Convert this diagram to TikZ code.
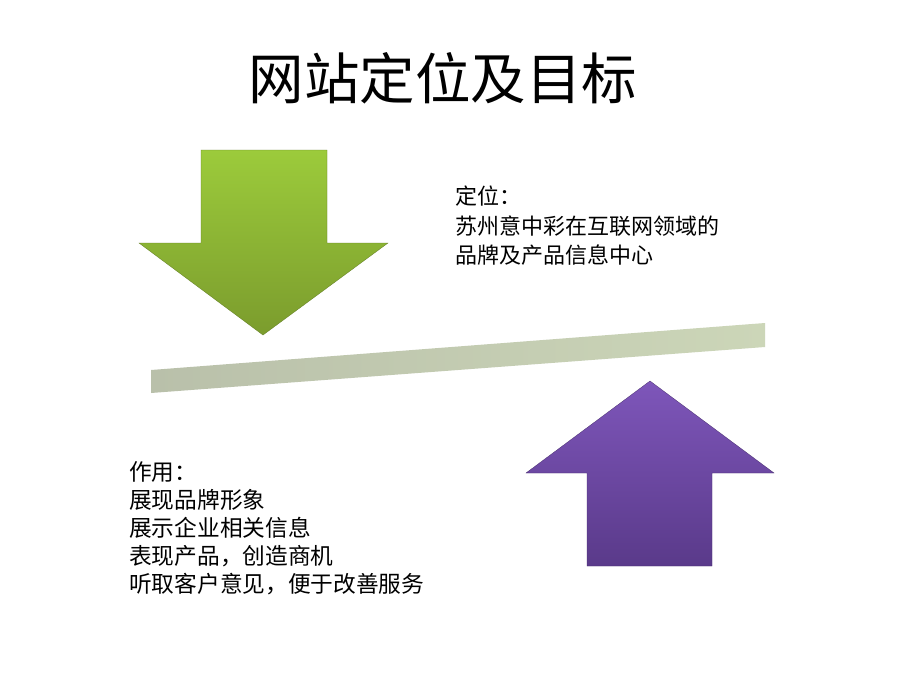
\documentclass[tikz,border=0pt]{standalone}
\usepackage{fontspec}
\setmainfont{Noto Sans CJK SC}
\newfontfamily\cjk{Noto Sans CJK SC}
\begin{document}
\begin{tikzpicture}[x=1pt,y=-1pt,
  bodytext/.style={anchor=base west,inner sep=0pt,font=\cjk\fontsize{22}{26}\selectfont,text=black},
  lefttext/.style={bodytext,font=\cjk\fontsize{22.7}{26}\selectfont},
  titletext/.style={inner sep=0pt,font=\cjk\fontsize{55.5}{60}\selectfont,text=black}]
\definecolor{greentop}{HTML}{9CCB3B}
\definecolor{greenbot}{HTML}{7B9C2D}
\definecolor{purptop}{HTML}{7E56BA}
\definecolor{purpbot}{HTML}{5A3A8A}
\definecolor{barl}{HTML}{B9C0AA}
\definecolor{barr}{HTML}{CCD6B8}
\useasboundingbox (0,0) rectangle (920,690);
\fill[white] (0,0) rectangle (920,690);
% title
\node[titletext] (title) at (443,78) {网站定位及目标};
% green arrow down
\shade[top color=greentop,bottom color=greenbot,draw=greenbot!80!black,line width=0.3pt]
  (201,150) -- (327,150) -- (327,243) -- (388,243) -- (263,335) -- (139,243) -- (201,243) -- cycle;
% bar
\shade[left color=barl,right color=barr]
  (151,370) -- (765,323) -- (765,347) -- (151,393) -- cycle;
% purple arrow up
\shade[top color=purptop,bottom color=purpbot,draw=purpbot!80!black,line width=0.3pt]
  (650,381) -- (774,473) -- (712,473) -- (712,566) -- (587,566) -- (587,473) -- (526,473) -- cycle;
% right text
\node[bodytext] (r1) at (455,204) {定位：};
\node[bodytext] (r2) at (455,234) {苏州意中彩在互联网领域的};
\node[bodytext] (r3) at (455,263) {品牌及产品信息中心};
% left text
\node[lefttext] (l1) at (129,480) {作用：};
\node[lefttext] (l2) at (129,508) {展现品牌形象};
\node[lefttext] (l3) at (129,536) {展示企业相关信息};
\node[lefttext] (l4) at (129,564) {表现产品，创造商机};
\node[lefttext] (l5) at (129,592) {听取客户意见，便于改善服务};
\end{tikzpicture}
\end{document}
